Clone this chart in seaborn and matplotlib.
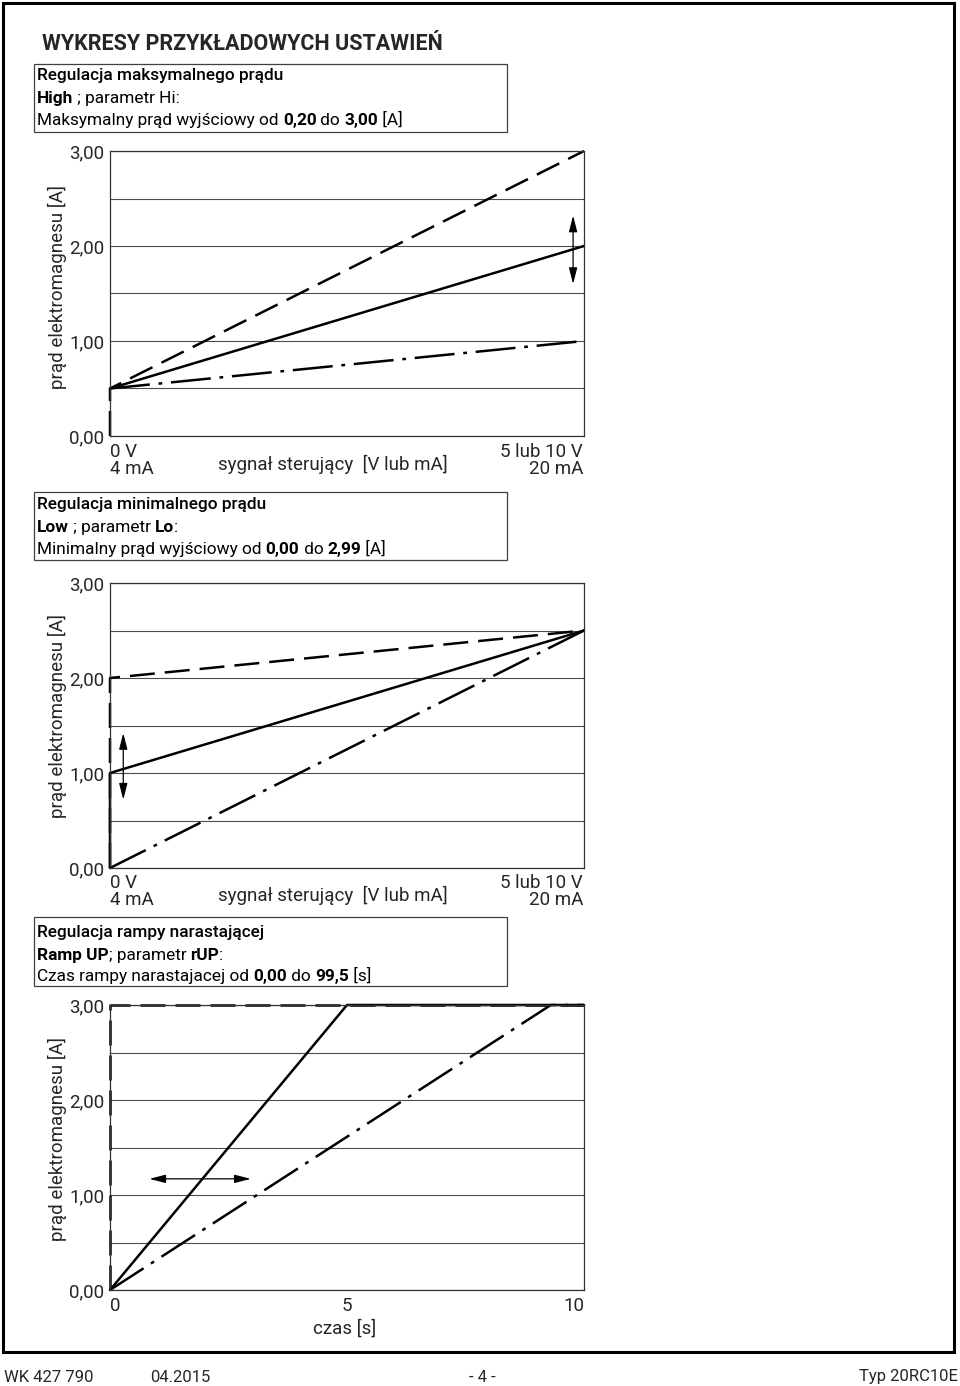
import seaborn as sns
import matplotlib.pyplot as plt
import matplotlib.patches as patches
import pandas as pd

sns.set_theme(style="white")
plt.rcParams['font.family'] = ['Roboto', 'DejaVu Sans']

# chart 1 - Hi (max current), signal normalised 0..1
hi_x = [0, 0, 1]
hi_max = [0.0, 0.5, 3.0]
hi_mid = [0.5, 0.5, 2.0]
hi_min = [0.5, 0.5, 1.0]
hi_arrow_x = 0.977
hi_arrow_y = [1.6, 2.32]

# chart 2 - Lo (min current)
lo_x = [0, 0, 1]
lo_high = [0.0, 2.0, 2.5]
lo_mid = [0.0, 1.0, 2.5]
lo_zero = [0.0, 0.0, 2.5]
lo_arrow_x = 0.028
lo_arrow_y = [0.72, 1.42]

# chart 3 - rUP (ramp time)
ramp_t_step = [0, 0, 10]
ramp_i_step = [0.0, 3.0, 3.0]
ramp_t_mid = [0, 5, 10]
ramp_i_mid = [0.0, 3.0, 3.0]
ramp_t_slow = [0, 9.3, 10]
ramp_i_slow = [0.0, 3.0, 3.0]
ramp_arrow_x = [0.83, 2.97]
ramp_arrow_y = 1.17

y_ticks = [0, 1, 2, 3]
y_labels = ["0,00", "1,00", "2,00", "3,00"]
y_grid = [0.5, 1.5, 2.5]
t_ticks = [0, 5, 10]

W, H = 960, 1386
fig = plt.figure(figsize=(9.6, 13.86), dpi=100)
FS = 13.5


def P(x, y):
    return x / W, 1 - y / H


DASH = (0, (10, 4))
DASHDOT = (0, (16, 3.5, 1.5, 3.5))
LW = 1.8


def make_axes(top, bottom, xmax):
    ax = fig.add_axes([110 / W, 1 - bottom / H, 474 / W, (bottom - top) / H])
    ax.set_xlim(0, xmax)
    ax.set_ylim(0, 3)
    ax.set_yticks(y_ticks)
    ax.set_yticklabels(y_labels, fontsize=FS)
    ax.set_yticks(y_grid, minor=True)
    ax.yaxis.grid(True, which='both', color='0.3', lw=0.8)
    ax.tick_params(axis='y', which='both', length=0, pad=4)
    for s in ax.spines.values():
        s.set_color('0.2')
        s.set_linewidth(0.9)
    ax.set_axisbelow(True)
    return ax


def curve(ax, x, y, ls):
    d = pd.DataFrame({"x": x, "y": y})
    sns.lineplot(data=d, x="x", y="y", ax=ax, estimator=None, sort=False,
                 color="black", lw=LW, linestyle=ls, clip_on=False)
    ax.set_xlabel("")
    ax.set_ylabel("")


def darrow(ax, p0, p1):
    ax.annotate("", xy=p1, xytext=p0,
                arrowprops=dict(arrowstyle="<|-|>,head_length=0.7,head_width=0.18",
                                lw=0.9, color="black", mutation_scale=14,
                                shrinkA=0, shrinkB=0))


def rich(x, y, parts, size=12.4):
    r = fig.canvas.get_renderer()
    cx = x
    for s, w in parts:
        t = fig.text(*P(cx, y), s, fontsize=size, fontweight=w,
                     ha='left', va='baseline', color='black')
        cx += t.get_window_extent(r).width


def box(x0, y0, x1, y1):
    fig.patches.append(patches.Rectangle(P(x0, y1), (x1 - x0) / W, (y1 - y0) / H,
                                         transform=fig.transFigure, fill=False,
                                         lw=0.9, edgecolor='0.25'))


def ylabel(yc):
    fig.text(*P(57, yc), "prąd elektromagnesu [A]", rotation=90, fontsize=FS,
             ha='center', va='center')


def signal_labels(ybase):
    fig.text(*P(110, ybase), "0 V\n4 mA", fontsize=FS, ha='left', va='top',
             linespacing=0.95)
    fig.text(*P(583, ybase), "5 lub 10 V\n20 mA", fontsize=FS, ha='right',
             va='top', linespacing=0.95)
    fig.text(*P(333, ybase + 12), "sygnał sterujący  [V lub mA]", fontsize=FS,
             ha='center', va='top')


# page frame and title
fig.patches.append(patches.Rectangle(P(3, 1352), 951 / W, 1349 / H,
                                     transform=fig.transFigure, fill=False,
                                     lw=2.2, edgecolor='black'))
fig.text(*P(42, 50), "WYKRESY PRZYKŁADOWYCH USTAWIEŃ", fontsize=15.5,
         fontweight='bold', ha='left', va='baseline')

# ---- chart 1
box(34, 64, 507, 132)
rich(37, 80, [("Regulacja maksymalnego prądu", 'medium')])
rich(37, 103, [("High", 'bold'), (" ; parametr Hi:", 'normal')])
rich(37, 125, [("Maksymalny prąd wyjściowy od ", 'normal'), ("0,20", 'bold'),
               (" do ", 'normal'), ("3,00", 'bold'), (" [A]", 'normal')])
ax1 = make_axes(151, 436, 1)
curve(ax1, hi_x, hi_max, DASH)
curve(ax1, hi_x, hi_mid, '-')
curve(ax1, hi_x, hi_min, DASHDOT)
darrow(ax1, (hi_arrow_x, hi_arrow_y[0]), (hi_arrow_x, hi_arrow_y[1]))
ax1.set_xticks([])
ylabel(287)
signal_labels(443)

# ---- chart 2
box(34, 492, 507, 560)
rich(37, 509, [("Regulacja minimalnego prądu", 'medium')])
rich(37, 532, [("Low", 'bold'), (" ; parametr ", 'normal'), ("Lo", 'bold'), (":", 'normal')])
rich(37, 554, [("Minimalny prąd wyjściowy od ", 'normal'), ("0,00", 'bold'),
               (" do ", 'normal'), ("2,99", 'bold'), (" [A]", 'normal')])
ax2 = make_axes(583, 868, 1)
curve(ax2, lo_x, lo_high, DASH)
curve(ax2, lo_x, lo_mid, '-')
curve(ax2, lo_x, lo_zero, DASHDOT)
darrow(ax2, (lo_arrow_x, lo_arrow_y[0]), (lo_arrow_x, lo_arrow_y[1]))
ax2.set_xticks([])
ylabel(716)
signal_labels(874)

# ---- chart 3
box(34, 917, 507, 986)
rich(37, 937, [("Regulacja rampy narastającej", 'medium')])
rich(37, 960, [("Ramp UP", 'bold'), ("; parametr ", 'normal'), ("rUP", 'bold'), (":", 'normal')])
rich(37, 981, [("Czas rampy narastajacej od ", 'normal'), ("0,00", 'bold'),
               (" do ", 'normal'), ("99,5", 'bold'), (" [s]", 'normal')])
ax3 = make_axes(1005, 1290, 10)
curve(ax3, ramp_t_step, ramp_i_step, DASH)
curve(ax3, ramp_t_mid, ramp_i_mid, '-')
curve(ax3, ramp_t_slow, ramp_i_slow, DASHDOT)
darrow(ax3, (ramp_arrow_x[0], ramp_arrow_y), (ramp_arrow_x[1], ramp_arrow_y))
ax3.set_xticks(t_ticks)
ax3.set_xticklabels([str(t) for t in t_ticks], fontsize=FS)
ax3.tick_params(axis='x', length=0, pad=5)
xl = ax3.get_xticklabels()
xl[0].set_ha('left')
xl[-1].set_ha('right')
ylabel(1139)
fig.text(*P(345, 1329), "czas [s]", fontsize=FS, ha='center', va='center')

# footer
fig.text(*P(4, 1378), "WK 427 790", fontsize=12, ha='left', va='center')
fig.text(*P(150, 1378), "04.2015", fontsize=12, ha='left', va='center')
fig.text(*P(482, 1378), "- 4 -", fontsize=12, ha='center', va='center')
fig.text(*P(958, 1376), "Typ 20RC10E", fontsize=12, ha='right', va='center')

fig.savefig("out.png", dpi=100, facecolor='white')
